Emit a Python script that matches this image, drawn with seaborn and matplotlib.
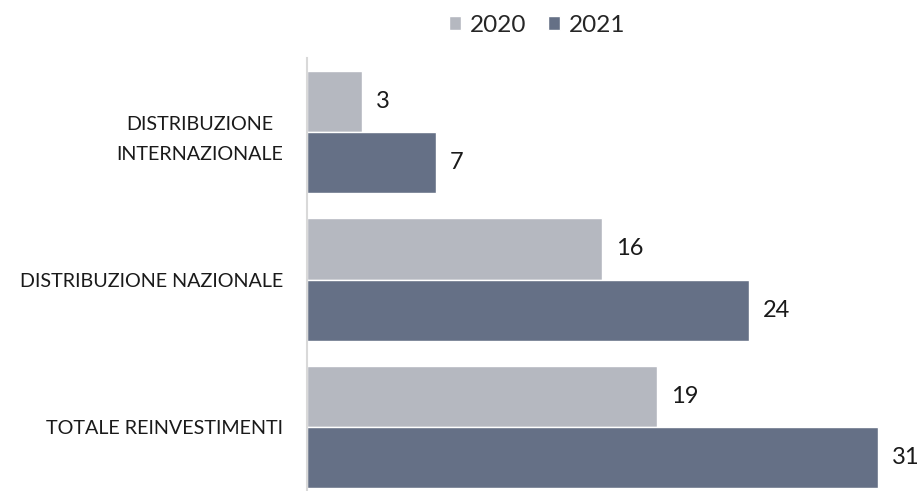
import matplotlib
matplotlib.use("Agg")
import matplotlib.pyplot as plt
import seaborn as sns
import pandas as pd

categories = ["DISTRIBUZIONE\nINTERNAZIONALE", "DISTRIBUZIONE NAZIONALE", "TOTALE REINVESTIMENTI"]
years = ["2020", "2021"]
values_2020 = [3, 16, 19]
values_2021 = [7, 24, 31]
colors = ["#B3B7C2", "#5F6E8C"]

df = pd.DataFrame({
    "cat": categories * 2,
    "year": [years[0]] * 3 + [years[1]] * 3,
    "value": values_2020 + values_2021,
})

sns.set_theme(style="white")
plt.rcParams["font.family"] = ["Lato", "DejaVu Sans"]

fig = plt.figure(figsize=(9.21, 4.91), dpi=100)
ax = fig.add_axes([0.3333, -0.0204, 0.66, 0.9022])

sns.barplot(data=df, y="cat", x="value", hue="year", orient="h",
            palette=colors, width=0.83, edgecolor="white", linewidth=1,
            ax=ax, legend=True)

for cont in ax.containers:
    ax.bar_label(cont, padding=10, fontsize=17, color="#1a1a1a")

ax.set_xlim(0, 33)
ax.set_ylim(2.5, -0.5)
ax.set_xlabel("")
ax.set_ylabel("")
ax.set_xticks([])
for s in ["top", "right", "bottom"]:
    ax.spines[s].set_visible(False)
ax.spines["left"].set_color("#D9D9D9")
ax.spines["left"].set_linewidth(1.5)
ax.tick_params(axis="y", length=0, pad=17, labelsize=14.2, labelcolor="#1a1a1a")
for lab in ax.get_yticklabels():
    lab.set_multialignment("center")
    lab.set_linespacing(1.9)

handles, labels = ax.get_legend_handles_labels()
ax.get_legend().remove()
fig.legend(handles, labels, loc="center", bbox_to_anchor=(0.583, 0.949),
           ncol=2, frameon=False, fontsize=17.5, handlelength=0.5,
           handleheight=0.5, handletextpad=0.35, columnspacing=0.9)

fig.savefig("out.png", dpi=100)
